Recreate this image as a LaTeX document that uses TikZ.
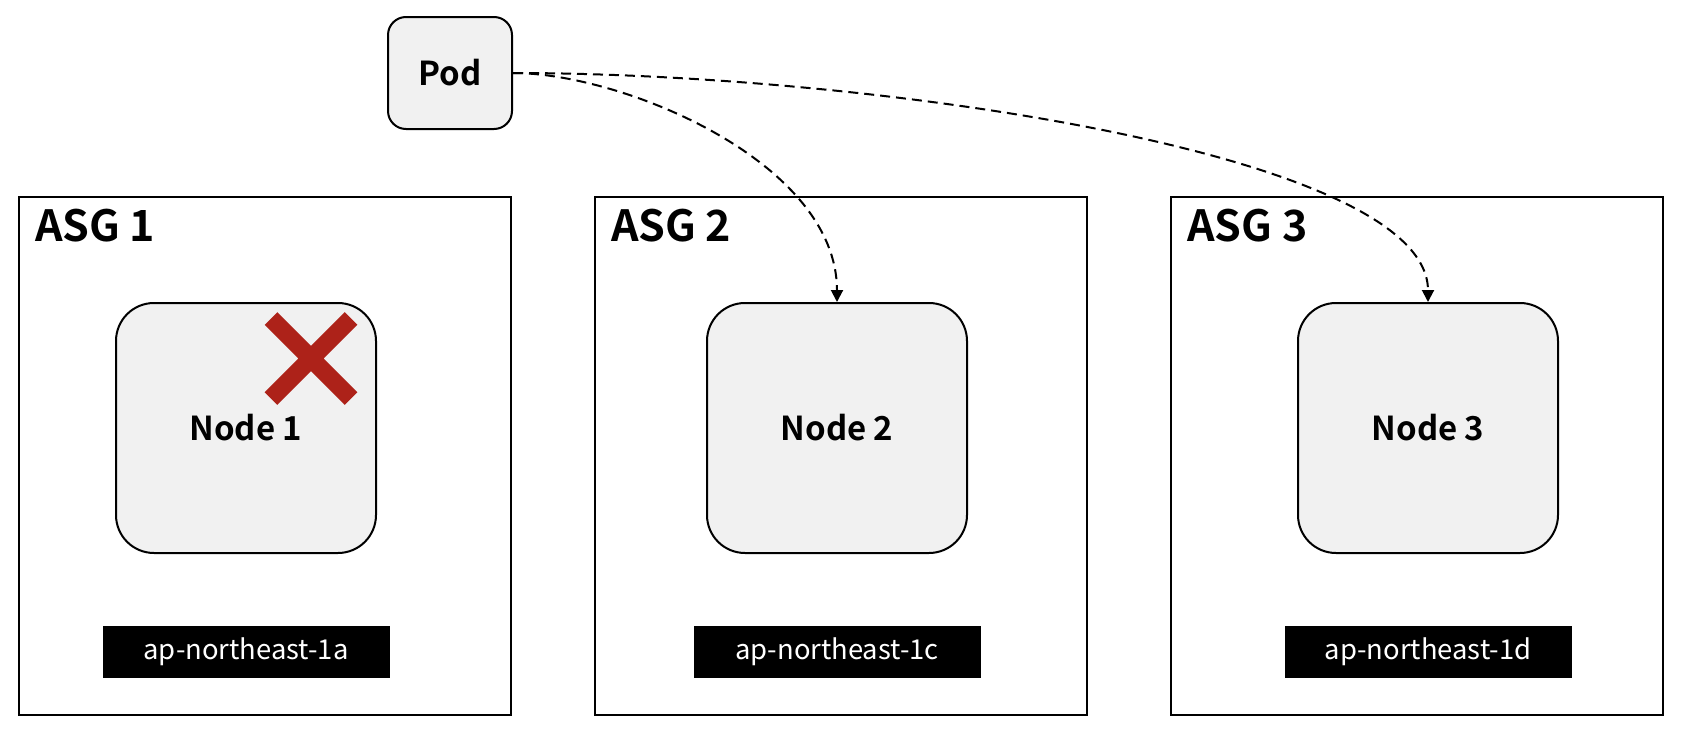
\documentclass[tikz,border=0pt]{standalone}
\usepackage{fontspec}
\setmainfont{Noto Sans CJK JP}[BoldFont={Noto Sans CJK JP Bold}]
\usetikzlibrary{arrows.meta,positioning}

\definecolor{boxgray}{HTML}{F1F1F1}
\definecolor{failred}{HTML}{AD2219}

\begin{document}
\begin{tikzpicture}[x=0.5pt,y=-0.5pt,>={Triangle[length=6pt,width=6pt]},
                    line width=1pt]
\tikzstyle{asg}=[draw=black,minimum width=246pt,minimum height=259pt,inner sep=0pt]
\tikzstyle{asgtitle}=[anchor=base west,inner sep=0pt,font=\bfseries\fontsize{21.5}{26}\selectfont]
\tikzstyle{worker}=[draw=black,fill=boxgray,rounded corners=19pt,minimum width=130pt,
                    minimum height=125pt,font=\bfseries\fontsize{16.5}{20}\selectfont]
\tikzstyle{zone}=[fill=black,text=white,minimum width=143.5pt,minimum height=26pt,
                  inner sep=0pt,font=\fontsize{13.7}{16}\selectfont]
\tikzstyle{schedule}=[->,dashed,dash pattern=on 5pt off 3pt]

\useasboundingbox (0,0) rectangle (1692,744);

\node[asg]		(asg1)	at (265,456)	{};
\node[asg]		(asg2)	at (841,456)	{};
\node[asg]		(asg3)	at (1417,456)	{};

\node[asgtitle]	(title1)	at ([shift={(16,45)}]asg1.north west)	{ASG 1};
\node[asgtitle]	(title2)	at ([shift={(16,45)}]asg2.north west)	{ASG 2};
\node[asgtitle]	(title3)	at ([shift={(16,45)}]asg3.north west)	{ASG 3};

\node[worker]	(node1)	at (246,428)			{Node 1};
\node[worker]	(node2)	[right=164.5pt of node1]	{Node 2};
\node[worker]	(node3)	[right=164.5pt of node2]	{Node 3};

\node[zone]		(zone1)	[below=35.5pt of node1]	{ap-northeast-1a};
\node[zone]		(zone2)	[below=35.5pt of node2]	{ap-northeast-1c};
\node[zone]		(zone3)	[below=35.5pt of node3]	{ap-northeast-1d};

\node[worker,rounded corners=9pt,minimum width=62pt,minimum height=56pt]
			(pod)	at (450,73)	{Pod};

% node 1 is down
\coordinate (fail) at ([shift={(65,-69.5)}]node1.center);
\draw[failred,line width=9pt] ([shift={(-40,-40)}]fail) -- ([shift={(40,40)}]fail)
                              ([shift={(-40,40)}]fail) -- ([shift={(40,-40)}]fail);

\draw[schedule] (pod.east) .. controls +(110,0) and +(0,-140) .. (node2.north);
\draw[schedule] (pod.east) .. controls +(350,0) and +(0,-150) .. (node3.north);

\end{tikzpicture}
\end{document}
